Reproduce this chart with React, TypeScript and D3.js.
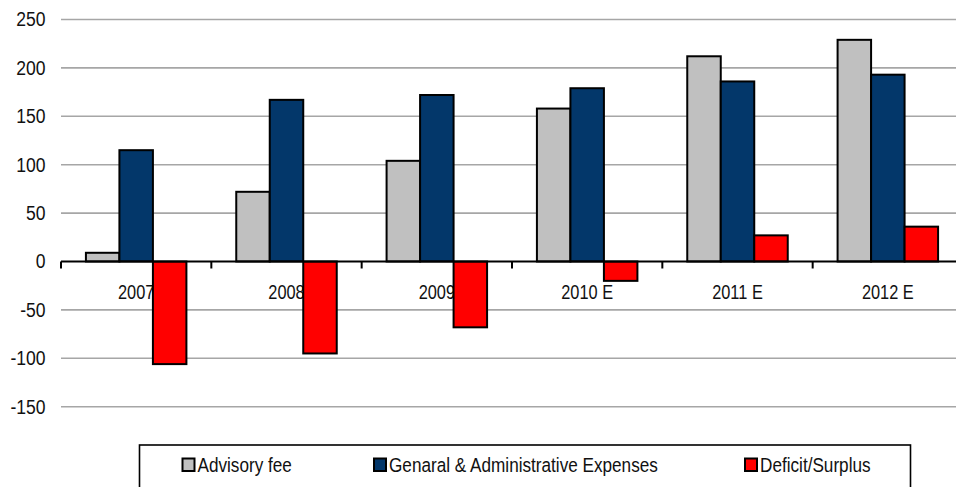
import React from "react";
import * as d3 from "d3";

const categories = ["2007", "2008", "2009", "2010 E", "2011 E", "2012 E"];
const advisoryFee = [9, 72, 104, 158, 212, 229];
const gaExpenses = [115, 167, 172, 179, 186, 193];
const deficitSurplus = [-106, -95, -68, -20, 27, 36];
const seriesNames = ["Advisory fee", "Genaral & Administrative Expenses", "Deficit/Surplus"];
const seriesColors = ["#c0c0c0", "#03376a", "#ff0000"];
const yTicks = [-150, -100, -50, 0, 50, 100, 150, 200, 250];

const W = 956;
const H = 487;
const FONT = "'Liberation Sans', Arial, sans-serif";
const FS = 19.5;

function NText(props: { x: number; y: number; anchor?: string; dy?: string; sx?: number; children: React.ReactNode }) {
  return (
    <text
      transform={`translate(${props.x},${props.y}) scale(${props.sx ?? 0.88},1)`}
      textAnchor={props.anchor || "start"}
      dy={props.dy}
      fontSize={FS}
      fill="#111"
    >
      {props.children}
    </text>
  );
}

export default function App() {
  const series = [advisoryFee, gaExpenses, deficitSurplus];
  const x = d3.scaleBand<string>().domain(categories).range([61, 963]).paddingInner(0).paddingOuter(0);
  const xs = d3
    .scaleBand<string>()
    .domain(seriesNames)
    .range([0, x.bandwidth()])
    .paddingInner(0)
    .paddingOuter(0.744);
  const y = d3.scaleLinear().domain([-150, 250]).range([406.7, 19.5]);
  const y0 = y(0);
  const tickXs = categories.map((c) => x(c) as number).concat([(x(categories[5]) as number) + x.bandwidth()]);

  const legendX = [182.5, 374, 745];

  return (
    <div style={{ position: "fixed", left: 0, top: 0, width: W, height: H, background: "#fff" }}>
      <svg width={W} height={H} style={{ display: "block" }} fontFamily={FONT}>
        {yTicks.map((t) => (
          <g key={t}>
            {t !== 0 && (
              <line x1={61} x2={W} y1={y(t)} y2={y(t)} stroke="#a6a6a6" strokeWidth={1.6} />
            )}
            <NText x={45.5} y={y(t)} dy="0.35em" anchor="end" sx={0.9}>
              {t}
            </NText>
          </g>
        ))}
        {categories.map((c) => (
          <NText key={c} x={(x(c) as number) + x.bandwidth() / 2} y={299} anchor="middle" sx={0.84}>
            {c}
          </NText>
        ))}
        {series.map((vals, si) =>
          vals.map((v, ci) => {
            const bx = (x(categories[ci]) as number) + (xs(seriesNames[si]) as number);
            const top = Math.min(y(v), y0);
            const h = Math.abs(y(v) - y0);
            return (
              <rect
                key={`${si}-${ci}`}
                x={bx}
                y={top}
                width={xs.bandwidth()}
                height={h}
                fill={seriesColors[si]}
                stroke="#000"
                strokeWidth={2}
              />
            );
          })
        )}
        <line x1={61} x2={W} y1={y0} y2={y0} stroke="#000" strokeWidth={2} />
        {tickXs.map((tx, i) => (
          <line key={i} x1={tx} x2={tx} y1={y0} y2={y0 + 7} stroke="#000" strokeWidth={2} />
        ))}
        <rect x={139.5} y={445} width={771} height={70} fill="none" stroke="#000" strokeWidth={1.6} />
        {seriesNames.map((n, i) => (
          <g key={n}>
            <rect x={legendX[i]} y={458.5} width={12} height={12.5} fill={seriesColors[i]} stroke="#000" strokeWidth={2} />
            <NText x={legendX[i] + 15} y={471.5}>
              {n}
            </NText>
          </g>
        ))}
      </svg>
    </div>
  );
}
